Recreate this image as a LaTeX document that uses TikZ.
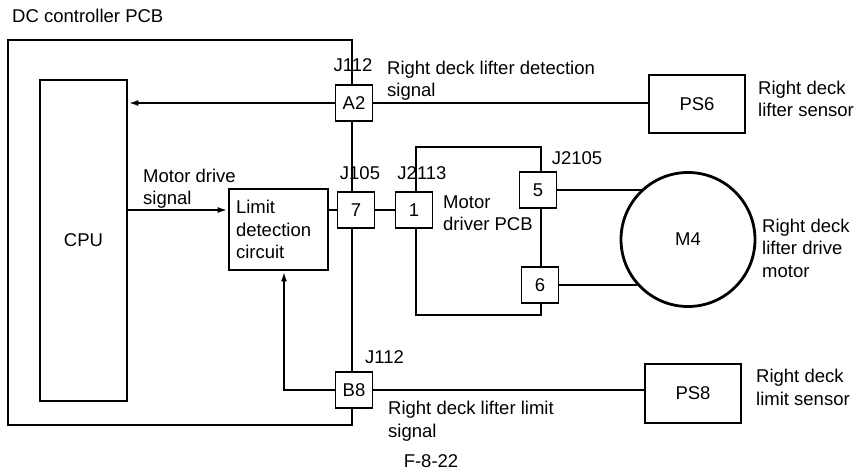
\documentclass[tikz,border=0pt]{standalone}
\usepackage{fontspec}
\setmainfont{Liberation Sans}
\usetikzlibrary{arrows.meta}
\begin{document}
\begin{tikzpicture}[x=1pt,y=-1pt,
 every node/.style={font=\fontsize{18.5}{22.5}\selectfont},
 wire/.style={line width=2.8pt},
 box/.style={draw,line width=2.8pt,fill=white,inner sep=0pt},
 frame/.style={draw,line width=2.8pt,inner sep=0pt},
 conn/.style={draw,line width=1.2pt,fill=white,minimum width=37pt,minimum height=36pt,inner sep=0pt},
 lbl/.style={inner sep=0pt,anchor=base west,align=left},
 clbl/.style={inner sep=0pt,anchor=base},
 arr/.style={wire,-{Latex[length=10pt,width=6pt]}}]
\useasboundingbox[fill=white] (0,0) rectangle (857,473);

% frames and blocks
\node[frame,minimum width=344pt,minimum height=385pt] (dc) at (180,232.5) {};
\node[box,minimum width=87pt,minimum height=321pt] (cpu) at (83.5,240.5) {CPU};
\node[box,minimum width=99pt,minimum height=81pt,align=left,text width=85pt] (lim) at (278.5,229.5) {Limit\\detection\\circuit};
\node[box,minimum width=125pt,minimum height=168pt] (md) at (478.5,231) {};
\node[box,minimum width=96pt,minimum height=58pt] (ps6) at (697,104) {PS6};
\node[box,minimum width=96pt,minimum height=59pt] (ps8) at (693,393.5) {PS8};
\node[circle,draw,line width=2.8pt,minimum size=134pt,inner sep=0pt] (m4) at (688,239.5) {M4};

% connectors
\node[conn] (a2) at (354,103) {A2};
\node[conn] (c7) at (356,210) {7};
\node[conn] (b8) at (354,390) {B8};
\node[conn] (c1) at (414,210) {1};
\node[conn] (c5) at (538,190) {5};
\node[conn] (c6) at (540,285) {6};

% wires
\draw[arr] (a2.west) -- (a2.west -| cpu.east);
\draw[wire] (a2.east) -- (a2.east -| ps6.west);
\draw[arr] (cpu.east |- c7.west) -- (lim.west |- c7.west);
\draw[wire] (lim.east |- c7.west) -- (c7.west);
\draw[wire] (c7.east) -- (c1.west);
\draw[wire] (c5.east) -- (c5.east -| m4.132);
\draw[wire] (c6.east) -- (c6.east -| m4.223);
\draw[wire] (b8.east) -- (b8.east -| ps8.west);
\draw[arr] (b8.west) -| ([xshift=5.5pt]lim.south);

% labels (base = baseline of last line)
\node[lbl] (tdc) at (12,23) {DC controller PCB};
\node[clbl] (tj112a) at (353,72) {J112};
\node[lbl] (tdet) at (387,97) {Right deck lifter detection\\signal};
\node[lbl] (tps6) at (758,117) {Right deck\\lifter sensor};
\node[clbl] (tj105) at (360,180) {J105};
\node[clbl] (tj2113) at (422,180) {J2113};
\node[lbl] (tmds) at (143,205) {Motor drive\\signal};
\node[clbl] (tj2105) at (577,165) {J2105};
\node[lbl] (tmdp) at (443,231) {Motor\\driver PCB};
\node[lbl] (tm4) at (762,277) {Right deck\\lifter drive\\motor};
\node[lbl] (tj112b) at (365,363) {J112};
\node[lbl] (tlim) at (388,437) {Right deck lifter limit\\signal};
\node[lbl] (tps8) at (756,405) {Right deck\\limit sensor};
\node[clbl] (cap) at (431,467) {F-8-22};
\end{tikzpicture}
\end{document}
